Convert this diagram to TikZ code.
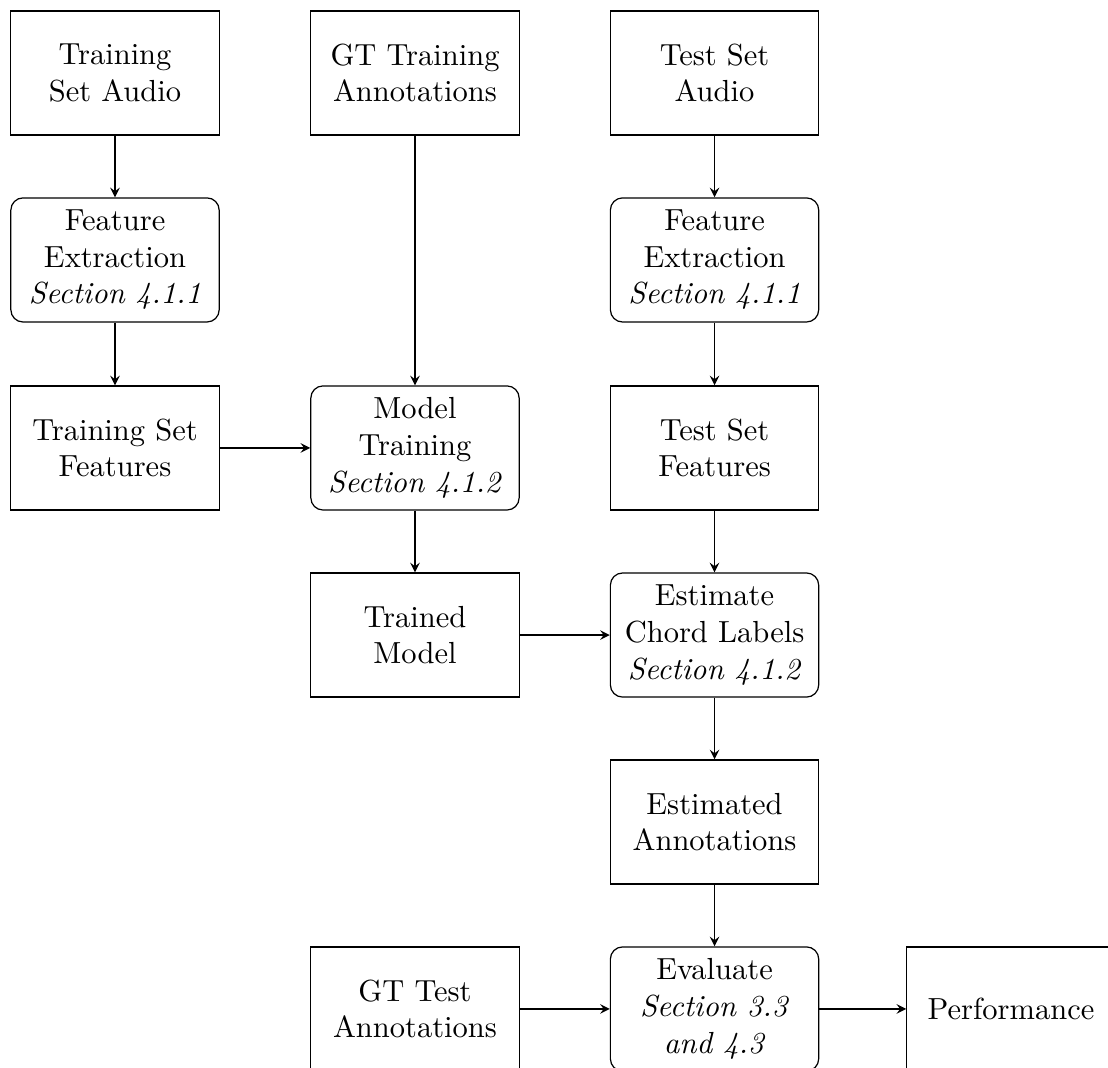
\documentclass[tikz,border=0pt]{standalone}
\usepackage{amsmath}
\usepackage{tikz}
\usetikzlibrary{calc, arrows.meta}

\tikzset{
  blk/.style={draw, minimum width=2.4cm, minimum height=1.43cm, align=center, inner sep=2pt},
  proc/.style={blk, rounded corners},
  flow/.style={->,>=stealth}
}

\begin{document}
\begin{tikzpicture}
  \useasboundingbox (0,0) rectangle (12.765,-12.293);
  % 左の列
  \node[blk]  (trainaudio) at (1.325,-0.841) {Training\\Set Audio};
  \node[proc] (trainfeatx) at (1.325,-2.995) {Feature\\Extraction\\\textit{Section 4.1.1}};
  \node[blk]  (trainfeat)  at (1.325,-5.161) {Training Set\\Features};
  % 中央の列
  \node[blk]  (gttrain)    at (4.781,-0.841) {GT Training\\Annotations};
  \node[proc] (modeltrain) at (4.781,-5.161) {Model\\Training\\\textit{Section 4.1.2}};
  \node[blk]  (trained)    at (4.781,-7.316) {Trained\\Model};
  \node[blk]  (gttest)     at (4.781,-11.624) {GT Test\\Annotations};
  % 右の列
  \node[blk]  (testaudio)  at (8.232,-0.841) {Test Set\\Audio};
  \node[proc] (testfeatx)  at (8.232,-2.995) {Feature\\Extraction\\\textit{Section 4.1.1}};
  \node[blk]  (testfeat)   at (8.232,-5.161) {Test Set\\Features};
  \node[proc] (estimate)   at (8.232,-7.316) {Estimate\\Chord Labels\\\textit{Section 4.1.2}};
  \node[blk]  (estanno)    at (8.232,-9.470) {Estimated\\Annotations};
  \node[proc] (evaluate)   at (8.232,-11.624) {Evaluate\\\textit{Section 3.3}\\\textit{and 4.3}};
  \node[blk]  (perf)       at (11.647,-11.624) {Performance};
  % 矢印
  \draw[flow] (trainaudio)--(trainfeatx);
  \draw[flow] (trainfeatx)--(trainfeat);
  \draw[flow] (trainfeat)--(modeltrain);
  \draw[flow] (gttrain)--(modeltrain);
  \draw[flow] (modeltrain)--(trained);
  \draw[flow] (trained)--(estimate);
  \draw[flow] (testaudio)--(testfeatx);
  \draw[flow] (testfeatx)--(testfeat);
  \draw[flow] (testfeat)--(estimate);
  \draw[flow] (estimate)--(estanno);
  \draw[flow] (estanno)--(evaluate);
  \draw[flow] (gttest)--(evaluate);
  \draw[flow] (evaluate)--(perf);
\end{tikzpicture}
\end{document}
